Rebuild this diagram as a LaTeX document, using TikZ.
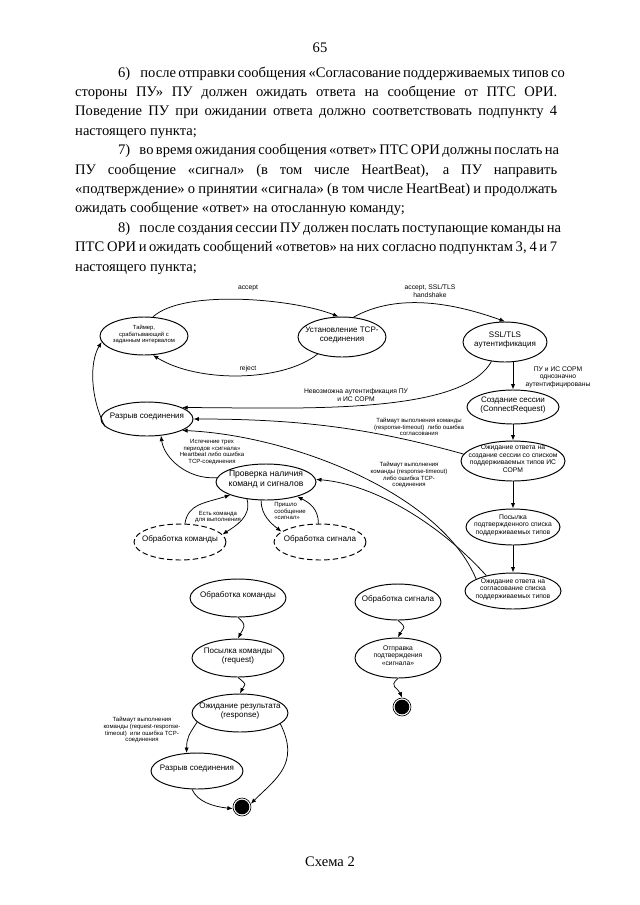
\documentclass[tikz,border=0pt]{standalone}
\usepackage{fontspec}
\setmainfont{Liberation Serif}
\setsansfont{Liberation Sans}
\usetikzlibrary{shapes.geometric,arrows.meta}
\newcommand\stext[1]{\smash{\makebox[0pt]{\begin{tabular}{@{}c@{}}#1\end{tabular}}}}
\begin{document}
\begin{tikzpicture}[x=0.328125mm,y=-0.328125mm,font=\sffamily\fontsize{7.5}{8.6}\selectfont,
  state/.style={ellipse,draw,line width=0.9pt,inner sep=0pt},
  dstate/.style={state,dash pattern=on 1.8mm off 1mm},
  sz/.style 2 args={minimum width=#1*0.328125mm,minimum height=#2*0.328125mm},
  small/.style={font=\sffamily\fontsize{6.3}{7.1}\selectfont},
  lbl/.style={align=center,inner sep=0pt,font=\sffamily\fontsize{5.6}{6.3}\selectfont},
  biglbl/.style={lbl,font=\sffamily\fontsize{6.3}{7.1}\selectfont},
  arr/.style={line width=0.7pt,-{Latex[length=1.8mm,width=1.4mm]}},
  txt/.style={anchor=base west,inner sep=0pt,font=\fontsize{13.6}{18}\selectfont},
  endst/.style={circle,draw,line width=0.6pt,minimum size=5.9mm,inner sep=0pt,
    path picture={\fill (path picture bounding box.center) circle (2.4mm);}}]
\useasboundingbox (0,0) rectangle (640,905);
\node[txt,anchor=base] (pnum) at (320,52) {65};
\node[txt] (t1) at (118,77) {\makebox[144.05mm][s]{6)\hspace{3.3mm}после отправки сообщения «Согласование поддерживаемых типов со}};
\node[txt] (t2) at (75,96.4) {\makebox[158.16mm][s]{стороны ПУ» ПУ должен ожидать ответа на сообщение от ПТС ОРИ.}};
\node[txt] (t3) at (75,115.8) {\makebox[158.16mm][s]{Поведение ПУ при ожидании ответа должно соответствовать подпункту 4}};
\node[txt] (t4) at (75,135.2) {настоящего пункта;};
\node[txt] (t5) at (118,154.6) {\makebox[144.05mm][s]{7)\hspace{3mm}во время ожидания сообщения «ответ» ПТС ОРИ должны послать на}};
\node[txt] (t6) at (75,174) {\makebox[158.16mm][s]{ПУ сообщение «сигнал» (в том числе HeartBeat), а ПУ направить}};
\node[txt] (t7) at (75,193.4) {\makebox[158.16mm][s]{«подтверждение» о принятии «сигнала» (в том числе HeartBeat) и продолжать}};
\node[txt] (t8) at (75,212.8) {ожидать сообщение «ответ» на отосланную команду;};
\node[txt] (t9) at (118,232.2) {\makebox[144.05mm][s]{8)\hspace{3mm}после создания сессии ПУ должен послать поступающие команды на}};
\node[txt] (t10) at (75,251.6) {\makebox[158.16mm][s]{ПТС ОРИ и ожидать сообщений «ответов» на них согласно подпунктам 3, 4 и 7}};
\node[txt] (t11) at (75,271) {настоящего пункта;};

\node[state,sz={88}{38},font=\sffamily\fontsize{5.5}{6.3}\selectfont] (timer) at (144,336) {\stext{Таймер,\\срабатывающий с\\заданным интервалом}};
\node[state,sz={88}{40}] (tcp) at (342,337) {\stext{Установление TCP-\\соединения}};
\node[state,sz={84}{40}] (ssl) at (505,342) {\stext{SSL/TLS\\аутентификация}};
\node[state,sz={92}{34}] (create) at (513,407) {\stext{Создание сессии\\(ConnectRequest)}};
\node[state,small,sz={104}{40}] (wait1) at (513,461) {\stext{Ожидание ответа на\\создание сессии со списком\\поддерживаемых типов ИС\\СОРМ}};
\node[state,small,sz={94}{36}] (sendl) at (513,527) {\stext{Посылка\\подтвержденного списка\\поддерживаемых типов}};
\node[state,small,sz={96}{36}] (wait2) at (513,591) {\stext{Ожидание ответа на\\согласование списка\\поддерживаемых типов}};
\node[state,sz={92}{34}] (break1) at (147,419) {\stext{Разрыв соединения}};
\node[state,sz={100}{36},font=\sffamily\fontsize{8}{9.2}\selectfont] (check) at (266,482) {\stext{Проверка наличия\\команд и сигналов}};
\node[dstate,sz={92}{36}] (cmdd) at (180,542) {\stext{Обработка команды}};
\node[dstate,sz={92}{36}] (sigd) at (320,542) {\stext{Обработка сигнала}};
\node[state,sz={96}{38}] (cmd) at (238,598) {\stext{Обработка команды}};
\node[state,sz={92}{38}] (sendcmd) at (238,658) {\stext{Посылка команды\\(request)}};
\node[state,sz={96}{38}] (waitres) at (240,713) {\stext{Ожидание результата\\(response)}};
\node[state,sz={92}{36}] (break2) at (197,771) {\stext{Разрыв соединения}};
\node[endst] (end1) at (242,807) {};
\node[state,sz={86}{36}] (sig) at (398,602) {\stext{Обработка сигнала}};
\node[state,small,sz={86}{40}] (sendack) at (398,658) {\stext{Отправка\\подтверждения\\«сигнала»}};
\node[endst] (end2) at (402,707) {};

\node[biglbl] (laccept) at (248,288) {accept};
\node[biglbl] (lreject) at (248,369) {reject};
\node[biglbl] (lssl) at (430,291) {accept, SSL/TLS\\handshake};
\node[biglbl] (lauth) at (558,377) {ПУ и ИС СОРМ\\однозначно\\аутентифицированы};
\node[biglbl] (lnoauth) at (356,395) {Невозможна аутентификация ПУ\\и ИС СОРМ};
\node[lbl] (ltmo1) at (419,427) {Таймаут выполнения команды\\(response-timeout)\ \ либо ошибка\\согласования};
\node[lbl] (ltmo2) at (409,475) {Таймаут выполнения\\команды (response-timeout)\\либо ошибка TCP-\\соединения};
\node[lbl] (lhb) at (212,452) {Истечение трех\\периодов «сигнала»\\Heartbeat либо ошибка\\TCP-соединения};
\node[lbl] (lcmd) at (218,517) {Есть команда\\для выполнения};
\node[lbl,align=left] (lsig) at (290,511) {Пришло\\сообщение\\«сигнал»};
\node[lbl] (ltmo3) at (142,730) {Таймаут выполнения\\команды (request-response-\\timeout)\ \ или ошибка TCP-\\соединения};

\draw[arr] (timer.65) .. controls +(30,-28) and +(-45,-18) .. (tcp.100);
\draw[arr] (tcp.215) .. controls +(-35,28) and +(45,28) .. (timer.295);
\draw[arr] (tcp.60) .. controls +(45,-25) and +(-50,-18) .. (ssl.90);
\draw[arr] (ssl.235) .. controls +(-30,55) and +(110,0) .. (break1.18);
\draw[arr] (ssl.south -| create.north) -- (create.north);
\draw[arr] (create) -- (wait1);
\draw[arr] (wait1) -- (sendl);
\draw[arr] (sendl) -- (wait2);
\draw[arr] (wait1.172) .. controls +(-90,-25) and +(110,0) .. (break1.0);
\draw[arr] (wait2.162) .. controls +(-35,-85) and +(110,5) .. (break1.342);
\draw[arr] (wait2.150) .. controls +(-45,-50) and +(60,5) .. (check.3);
\draw[arr] (break1.190) .. controls +(-15,-30) and +(-12,20) .. (timer.188);
\draw[arr] (check.175) .. controls +(-30,2) and +(3,22) .. (break1.310);
\draw[arr] (cmdd.75) .. controls +(3,-20) and +(-25,8) .. (check.200);
\draw[arr] (check.222) .. controls +(5,18) and +(12,-8) .. (cmdd.10);
\draw[arr] (check.255) .. controls +(0,15) and +(-10,-8) .. (sigd.165);
\draw[arr] (sigd.95) .. controls +(0,-15) and +(12,6) .. (check.335);

\draw[arr] (cmd.south) .. controls +(10,8) and +(5,-10) .. (sendcmd.north);
\draw[arr] (sendcmd.south) .. controls +(10,8) and +(5,-10) .. (waitres.north);
\draw[arr] (waitres.192) .. controls +(-8,12) and +(0,-15) .. (break2.120);
\draw[arr] (waitres.345) .. controls +(20,40) and +(25,-25) .. (end1.20);
\draw[arr] (break2.255) .. controls +(5,12) and +(-20,-2) .. (end1.190);
\draw[arr] (sig.south) .. controls +(10,8) and +(5,-10) .. (sendack.north);
\draw[arr] (sendack.south) .. controls +(-10,8) and +(-4,-10) .. (end2.north);

\node[txt,anchor=base] (caption) at (330,866) {Схема 2};
\end{tikzpicture}
\end{document}
